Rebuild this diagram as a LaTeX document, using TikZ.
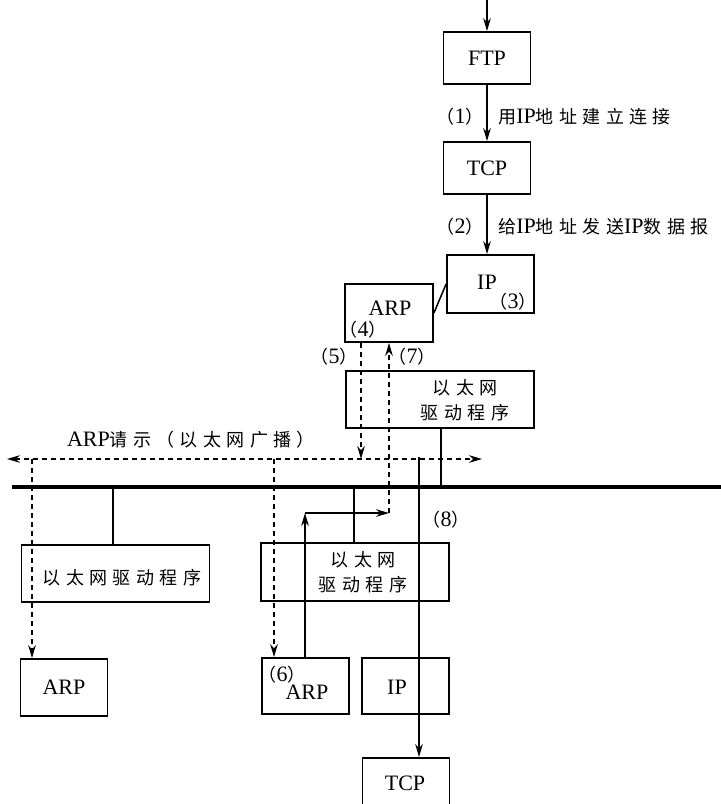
\documentclass[tikz,border=0pt]{standalone}
\usepackage{fontspec}
\setmainfont{Liberation Serif}
\newfontfamily\cjk[LetterSpace=30]{Noto Sans CJK SC}
\usetikzlibrary{arrows.meta,calc}
\newcommand{\zhfont}{\fontsize{9}{12.5}\selectfont\cjk}
\newcommand{\zh}[1]{{\zhfont #1}}
\newcommand{\pnum}[1]{\zh{（}#1\zh{）}}
\tikzset{
  box/.style   = {rectangle, draw, line width=0.9pt, inner sep=0pt,
                  minimum width=43.5pt, minimum height=28.5pt},
  drv/.style   = {box, minimum width=94pt},
  tag/.style   = {inner sep=0pt},
  flow/.style  = {-{Stealth[length=6.5pt, width=3.8pt]}, line width=0.75pt},
  wire/.style  = {line width=0.75pt},
  bcast/.style = {dash pattern=on 2.5pt off 2pt, line width=0.75pt},
  bus/.style   = {line width=2pt},
}

\begin{document}
\begin{tikzpicture}[x=0.5pt, y=-0.5pt, font=\fontsize{11}{12.5}\selectfont]
  \useasboundingbox (0,0) rectangle (721,804);
  \clip (0,0) rectangle (721,804);

  % sending host
  \node[box, minimum height=26pt] (ftp) at (487,58) {FTP};
  \node[box, minimum height=26pt] (tcp) at (487,168) {TCP};
  \node[box, minimum height=29pt] (ip) at (490.5,284) {};
  \node[tag] (ipt) at (487,282) {IP};
  \node[tag] (n3) at (513,302) {\pnum{3}};
  \node[box, minimum width=44pt, minimum height=29pt] (arp) at (389,313) {};
  \node[tag] (arpt) at (390,308) {ARP};
  \node[tag] (n4) at (363,330) {\pnum{4}};
  \node[drv] (drva) at (440,399.5) {};
  \node[tag, align=center, font=\zhfont] (drvat) at (465,400) {以太网\\驱动程序};

  \coordinate (top) at (487,0);
  \draw[flow] (top) -- (ftp.north);
  \draw[flow] (ftp.south) -- (tcp.north);
  \draw[flow] (tcp.south) -- (tcp.south |- ip.north);
  \draw[wire] (arp.east) -- (ip.west);
  \node[tag] (n1) at (460,117) {\pnum{1}};
  \node[tag, anchor=west] (l1) at (498,117) {\zh{用}IP\zh{地址建立连接}};
  \node[tag] (n2) at (460,227) {\pnum{2}};
  \node[tag, anchor=west] (l2) at (498,227) {\zh{给}IP\zh{地址发送}IP\zh{数据报}};

  % the cable
  \coordinate (busl) at (12,487);
  \coordinate (busr) at (730,487);
  \draw[bus] (busl) -- (busr);
  \coordinate (ta) at (441,487);
  \draw[wire] (drva.south -| ta) -- (ta);

  % broadcast of the request
  \coordinate (bcl) at (7,459);
  \coordinate (bcr) at (482,459);
  \draw[bcast, {Stealth[length=6.5pt, width=3.8pt]}-{Stealth[length=6.5pt, width=3.8pt]}] (bcl) -- (bcr);
  \node[tag] (bclab) at (191,440) {ARP\zh{请示（以太网广播）}};
  \coordinate (c5) at (361,459);
  \draw[bcast, -{Stealth[length=6.5pt, width=3.8pt]}] (arp.south -| c5) -- (c5);
  \node[tag] (n5) at (334,357) {\pnum{5}};

  % other hosts
  \node[drv] (drvb) at (115.5,573.5) {};
  \node[tag, font=\zhfont] (drvbt) at (122,578) {以太网驱动程序};
  \coordinate (tb) at (113,487);
  \draw[wire] (tb) -- (tb |- drvb.north);
  \node[box] (arpb) at (64,687.5) {ARP};
  \coordinate (d1) at (32,459);
  \draw[bcast, -{Stealth[length=6.5pt, width=3.8pt]}] (d1) -- (d1 |- arpb.north);

  % target host
  \node[drv, minimum height=29pt] (drvc) at (355,572) {};
  \node[tag, align=center, font=\zhfont] (drvct) at (363,572) {以太网\\驱动程序};
  \coordinate (tc) at (354,487);
  \draw[wire] (tc) -- (tc |- drvc.north);
  \node[box, minimum height=28pt] (arpc) at (305.5,686) {};
  \node[tag] (n6) at (282,675) {\pnum{6}};
  \node[tag] (arpct) at (307,692) {ARP};
  \node[box, minimum height=28pt] (ipc) at (405.5,686) {};
  \node[tag] (ipct) at (397,687) {IP};
  \node[box, minimum height=36.5pt, anchor=north] (tcpc) at (406,757) {};
  \node[tag] (tcpct) at (405,783) {TCP};
  \coordinate (d2) at (274,459);
  \draw[bcast, -{Stealth[length=6.5pt, width=3.8pt]}] (d2) -- (d2 |- arpc.north);

  % the reply
  \coordinate (k6) at (305,513);
  \coordinate (c7) at (389,513);
  \draw[flow] (arpc.north -| k6) -- (k6);
  \draw[flow] (k6) -- (c7);
  \draw[bcast, -{Stealth[length=6.5pt, width=3.8pt]}] (c7) -- (c7 |- arp.south);
  \node[tag] (n7) at (412,357) {\pnum{7}};

  % the IP datagram
  \coordinate (s8) at (419,457);
  \draw[flow] (s8) -- (s8 |- tcpc.north);
  \node[tag] (n8) at (446,520) {\pnum{8}};
\end{tikzpicture}
\end{document}
